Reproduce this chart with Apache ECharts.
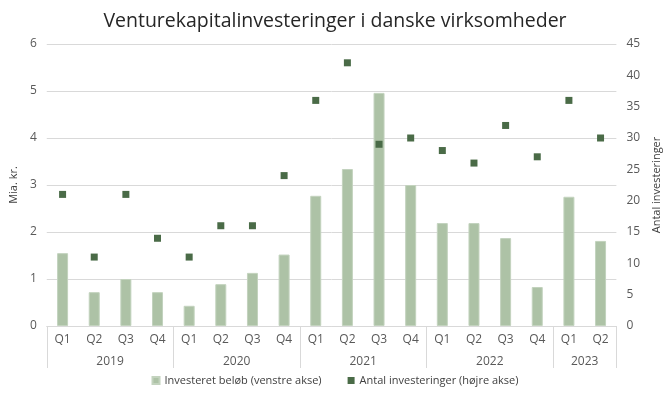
<!DOCTYPE html>
<html>
<head>
<meta charset="utf-8">
<script src="https://cdn.jsdelivr.net/npm/echarts@6/dist/echarts.min.js"></script>
<style>
  html, body { margin: 0; padding: 0; background: #fff; }
  #main { width: 670px; height: 399px; }
</style>
</head>
<body>
<div id="main"></div>
<script>
var myChart = echarts.init(document.getElementById('main'));

var title = 'Venturekapitalinvesteringer i danske virksomheder';
var quarters = ['Q1','Q2','Q3','Q4','Q1','Q2','Q3','Q4','Q1','Q2','Q3','Q4','Q1','Q2','Q3','Q4','Q1','Q2'];
var years = ['2019', '2020', '2021', '2022', '2023'];
var quartersPerYear = [4, 4, 4, 4, 2];
// milliarder kr. (venstre akse)
var amount = [1.55, 0.72, 1.0, 0.72, 0.43, 0.89, 1.13, 1.52, 2.77, 3.34, 4.96, 3.0, 2.19, 2.19, 1.87, 0.83, 2.75, 1.81];
// antal (højre akse)
var count = [21, 11, 21, 14, 11, 16, 16, 24, 36, 42, 29, 30, 28, 26, 32, 27, 36, 30];

var barName = 'Investeret beløb (venstre akse)';
var dotName = 'Antal investeringer (højre akse)';
var font = 'Open Sans';
var textColor = '#595959';
var lineColor = '#d9d9d9';

// midtpunkt for hvert år på x-aksen
var yearAt = {};
var pos = 0;
for (var i = 0; i < years.length; i++) {
    yearAt[pos + quartersPerYear[i] / 2] = years[i];
    pos += quartersPerYear[i];
}

var option = {
    animation: false,
    title: {
        text: title,
        left: 'center',
        top: 6,
        textStyle: { color: '#262626', fontFamily: font, fontSize: 19.5, fontWeight: 'normal' }
    },
    legend: {
        bottom: 8,
        left: 'center',
        itemWidth: 7,
        itemHeight: 7,
        itemGap: 26,
        textStyle: { color: '#404040', fontFamily: font, fontSize: 11 },
        data: [{ name: barName, icon: 'rect' }, { name: dotName, icon: 'rect' }]
    },
    grid: { left: 45, right: 52, top: 44, bottom: 73 },
    xAxis: [{
        type: 'category',
        data: quarters,
        axisLine: { lineStyle: { color: lineColor } },
        axisTick: {
            show: true,
            alignWithLabel: false,
            length: 42,
            lineStyle: { color: lineColor },
            interval: function (idx) { return idx % 4 === 0; }
        },
        axisLabel: { color: textColor, fontFamily: font, fontSize: 12, margin: 8, interval: 0 }
    }, {
        type: 'value',
        position: 'bottom',
        min: 0,
        max: quarters.length,
        interval: 1,
        offset: 22,
        axisLine: { show: false },
        axisTick: { show: false },
        splitLine: { show: false },
        axisLabel: {
            color: textColor, fontFamily: font, fontSize: 12, margin: 8,
            showMinLabel: true, showMaxLabel: true,
            formatter: function (v) { return yearAt[v] || ''; }
        }
    }],
    yAxis: [{
        type: 'value',
        min: 0, max: 6, interval: 1,
        name: 'Mia. kr.',
        nameLocation: 'middle',
        nameGap: 18,
        nameTextStyle: { color: '#404040', fontFamily: font, fontSize: 11 },
        axisLine: { show: false },
        axisTick: { show: false },
        axisLabel: { color: textColor, fontFamily: font, fontSize: 12, margin: 10 },
        splitLine: { lineStyle: { color: lineColor } }
    }, {
        type: 'value',
        min: 0, max: 45, interval: 5,
        name: 'Antal investeringer',
        nameLocation: 'middle',
        nameGap: 18,
        nameRotate: 90,
        nameTextStyle: { color: '#404040', fontFamily: font, fontSize: 11 },
        axisLine: { show: false },
        axisTick: { show: false },
        axisLabel: { color: textColor, fontFamily: font, fontSize: 12, margin: 10 },
        splitLine: { show: false }
    }],
    series: [{
        name: barName,
        type: 'bar',
        data: amount,
        barWidth: 11,
        itemStyle: { color: '#adc2a6', borderColor: '#c3d3be', borderWidth: 1 }
    }, {
        name: dotName,
        type: 'scatter',
        yAxisIndex: 1,
        data: count,
        symbol: 'rect',
        symbolSize: 7,
        itemStyle: { color: '#4a6b47', opacity: 1 }
    }]
};
myChart.setOption(option);
</script>
</body>
</html>
